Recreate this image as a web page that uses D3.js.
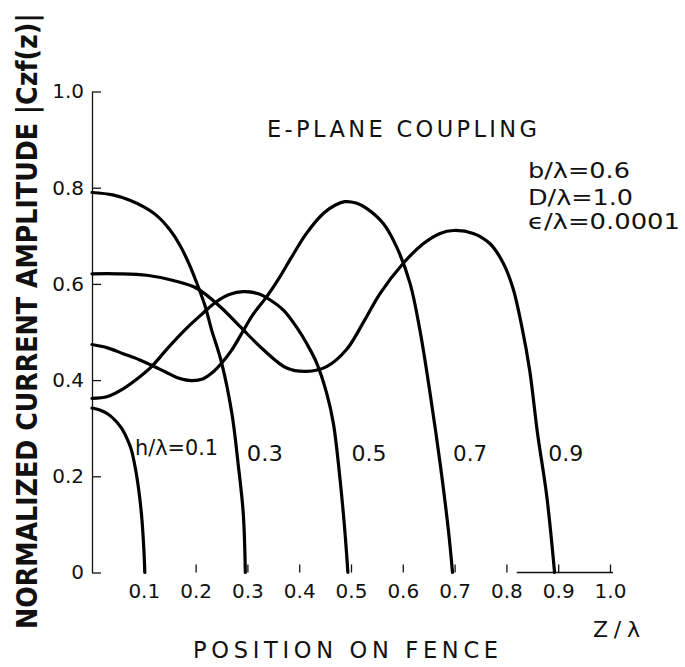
<!DOCTYPE html>
<html><head><meta charset="utf-8">
<script src="https://cdn.jsdelivr.net/npm/d3@7/dist/d3.min.js"></script>
<style>body{margin:0;background:#fff;} svg{display:block;}</style>
</head><body>
<svg id="chart" width="685" height="667"></svg>
<script>
// ---- data ----
const hValues = [0.1, 0.3, 0.5, 0.7, 0.9];
const hLabels = ["h/λ=0.1", "0.3", "0.5", "0.7", "0.9"];

const z_h01 = [0, 0.015, 0.03, 0.045, 0.057, 0.067, 0.076, 0.084, 0.091, 0.096, 0.1, 0.102];
const amp_h01 = [0.342, 0.338, 0.330, 0.316, 0.300, 0.280, 0.255, 0.215, 0.165, 0.115, 0.05, 0];

const z_h03 = [0, 0.04, 0.073, 0.1, 0.125, 0.15, 0.17, 0.188, 0.205, 0.218, 0.231, 0.25, 0.27, 0.282, 0.292, 0.296];
const amp_h03 = [0.79, 0.785, 0.774, 0.76, 0.742, 0.713, 0.68, 0.64, 0.594, 0.555, 0.504, 0.437, 0.331, 0.227, 0.123, 0];

const z_h05 = [0, 0.03, 0.06, 0.09, 0.115, 0.145, 0.179, 0.21, 0.24, 0.265, 0.292, 0.32, 0.345, 0.37, 0.395, 0.415, 0.434, 0.453, 0.466, 0.479, 0.488, 0.494];
const amp_h05 = [0.362, 0.366, 0.382, 0.405, 0.428, 0.465, 0.504, 0.535, 0.563, 0.578, 0.584, 0.58, 0.566, 0.545, 0.51, 0.475, 0.435, 0.373, 0.31, 0.192, 0.088, 0];

const z_h07 = [0, 0.03, 0.06, 0.09, 0.115, 0.14, 0.165, 0.192, 0.215, 0.235, 0.25, 0.27, 0.289, 0.31, 0.337, 0.36, 0.385, 0.414, 0.447, 0.47, 0.488, 0.51, 0.53, 0.562, 0.588, 0.614, 0.633, 0.653, 0.672, 0.688, 0.696];
const amp_h07 = [0.474, 0.467, 0.455, 0.443, 0.431, 0.418, 0.405, 0.399, 0.403, 0.418, 0.435, 0.463, 0.497, 0.535, 0.573, 0.61, 0.655, 0.705, 0.747, 0.764, 0.771, 0.768, 0.757, 0.726, 0.677, 0.601, 0.504, 0.37, 0.227, 0.088, 0];

const z_h09 = [0, 0.05, 0.106, 0.157, 0.202, 0.247, 0.286, 0.331, 0.376, 0.414, 0.453, 0.491, 0.525, 0.556, 0.601, 0.64, 0.672, 0.698, 0.736, 0.768, 0.794, 0.813, 0.83, 0.845, 0.86, 0.878, 0.893];
const amp_h09 = [0.621, 0.621, 0.618, 0.607, 0.591, 0.553, 0.511, 0.463, 0.425, 0.418, 0.428, 0.463, 0.522, 0.58, 0.643, 0.684, 0.705, 0.711, 0.705, 0.684, 0.643, 0.59, 0.51, 0.42, 0.29, 0.158, 0];

const xTickValues = [0.1, 0.2, 0.3, 0.4, 0.5, 0.6, 0.7, 0.8, 0.9, 1.0];
const xTickLabels = ["0.1", "0.2", "0.3", "0.4", "0.5", "0.6", "0.7", "0.8", "0.9", "1.0"];
const yTickValues = [0, 0.2, 0.4, 0.6, 0.8, 1.0];
const yTickLabels = ["0", "0.2", "0.4", "0.6", "0.8", "1.0"];

const titleText = "E-PLANE COUPLING";
const paramLabels = ["b/λ=0.6", "D/λ=1.0", "ϵ/λ=0.0001"];
const xTitle = "POSITION ON FENCE";
const xUnit = "Z/λ";
const yTitle = "NORMALIZED CURRENT AMPLITUDE |Czf(z)|";

// ---- layout ----
const FONT = "'DejaVu Sans', 'Liberation Sans', sans-serif";
const svg = d3.select("#chart");
const x = d3.scaleLinear().domain([0, 1]).range([92, 610]);
const y = d3.scaleLinear().domain([0, 1]).range([572.5, 91.5]);

const series = [
  {h: hValues[0], z: z_h01, a: amp_h01},
  {h: hValues[1], z: z_h03, a: amp_h03},
  {h: hValues[2], z: z_h05, a: amp_h05},
  {h: hValues[3], z: z_h07, a: amp_h07},
  {h: hValues[4], z: z_h09, a: amp_h09}
];

// y axis
const yAxis = d3.axisLeft(y)
  .tickValues(yTickValues)
  .tickFormat((d, i) => yTickLabels[i])
  .tickSizeInner(-9).tickSizeOuter(0).tickPadding(8);
const gy = svg.append("g").attr("transform", `translate(${x(0)},0)`).call(yAxis);
gy.select(".domain").attr("stroke", "#111").attr("stroke-width", 1.3);
gy.selectAll(".tick line").attr("stroke", "#111").attr("stroke-width", 1.3);
gy.selectAll(".tick text").attr("font-family", FONT).attr("font-size", 20).attr("fill", "#111");

// x axis
const xAxis = d3.axisBottom(x)
  .tickValues(xTickValues)
  .tickFormat((d, i) => xTickLabels[i])
  .tickSizeInner(-8).tickSizeOuter(0).tickPadding(11);
const gx = svg.append("g").attr("transform", `translate(0,${y(0)})`).call(xAxis);
gx.select(".domain").remove();
gx.selectAll(".tick line").attr("stroke", "#111").attr("stroke-width", 1.3);
gx.selectAll(".tick text").attr("font-family", FONT).attr("font-size", 20).attr("fill", "#111");
// partial baseline visible in the reference
svg.append("line")
  .attr("x1", x(0.82)).attr("x2", x(1.0) + 3)
  .attr("y1", y(0)).attr("y2", y(0))
  .attr("stroke", "#111").attr("stroke-width", 1.3);

// curves
const line = d3.line().x(d => x(d[0])).y(d => y(d[1])).curve(d3.curveCatmullRom.alpha(0.5));
svg.append("g").selectAll("path").data(series).join("path")
  .attr("d", s => line(s.z.map((zz, i) => [zz, s.a[i]])))
  .attr("fill", "none").attr("stroke", "#000").attr("stroke-width", 3.2)
  .attr("stroke-linecap", "round").attr("stroke-linejoin", "round");

// curve labels
const labelAnchor = [[0.083, 0.244, 83], [0.299, 0.231, 36], [0.501, 0.231, 35], [0.697, 0.231, 34], [0.881, 0.231, 35]];
svg.append("g").selectAll("text").data(hLabels).join("text")
  .attr("x", (d, i) => x(labelAnchor[i][0]))
  .attr("y", (d, i) => y(labelAnchor[i][1]))
  .attr("textLength", (d, i) => labelAnchor[i][2])
  .attr("lengthAdjust", "spacingAndGlyphs")
  .attr("font-family", FONT).attr("font-size", 21).attr("fill", "#111")
  .text(d => d);

// title
svg.append("text").attr("x", 267).attr("y", 137)
  .attr("textLength", 270).attr("lengthAdjust", "spacing")
  .attr("font-family", FONT).attr("font-size", 22.5).attr("fill", "#111")
  .text(titleText);

// parameters
const paramY = [178, 205, 228.5];
const paramW = [102, 105, 152];
svg.append("g").selectAll("text").data(paramLabels).join("text")
  .attr("x", 528).attr("y", (d, i) => paramY[i])
  .attr("textLength", (d, i) => paramW[i]).attr("lengthAdjust", "spacingAndGlyphs")
  .attr("font-family", FONT).attr("font-size", 21).attr("fill", "#111")
  .text(d => d);

// x unit and title
svg.append("text").attr("x", 593).attr("y", 637)
  .attr("textLength", 47).attr("lengthAdjust", "spacing")
  .attr("font-family", FONT).attr("font-size", 22).attr("fill", "#111")
  .text(xUnit);
svg.append("text").attr("x", 193).attr("y", 658)
  .attr("textLength", 305).attr("lengthAdjust", "spacing")
  .attr("font-family", FONT).attr("font-size", 22.5).attr("fill", "#111")
  .text(xTitle);

// y title: condensed by a horizontal scale so its box fits the page
const yt = svg.append("text")
  .attr("font-family", FONT).attr("font-weight", "bold").attr("font-size", 29).attr("fill", "#111")
  .text(yTitle);
const natural = yt.node().getComputedTextLength();
const sx = 616 / natural;
yt.attr("transform", `translate(37,629) rotate(-90) scale(${sx},1)`);
</script>
</body></html>
